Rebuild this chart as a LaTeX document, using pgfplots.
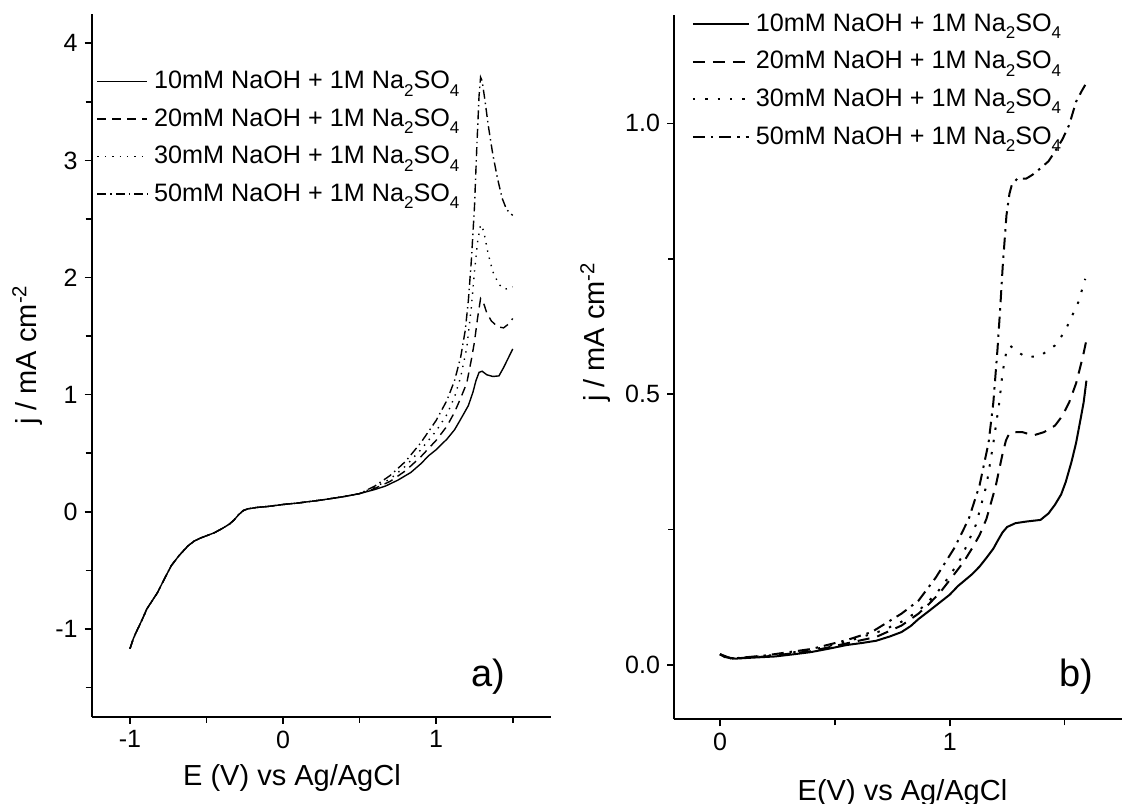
\documentclass[border=0pt]{standalone}
\usepackage{fontspec}
\setmainfont{Liberation Sans}
\usepackage{pgfplots}
\pgfplotsset{compat=1.18}
\newcommand\sub[1]{\raisebox{-0.55ex}{\fontsize{8.5}{9}\selectfont #1}}

\begin{document}
\begin{tikzpicture}
\path[use as bounding box] (0pt,0pt) rectangle (561pt,401.5pt);

\pgfplotsset{
  cvstyle/.style={
    scale only axis,
    axis lines=left,
    axis line style={-, line width=1pt},
    tick align=outside,
    tick style={line width=0.8pt, black},
    major tick length=3.5pt,
    minor tick length=3pt,
    tick label style={font=\fontsize{12.5}{14}\selectfont},
    label style={font=\fontsize{14.5}{16}\selectfont},
    /pgf/number format/assume math mode=true,
    legend cell align=left,
    legend style={draw=none, fill=none, inner xsep=0pt, inner ysep=0pt,
      font=\fontsize{12.6}{14}\selectfont, row sep=4.5pt, anchor=north west,
      /tikz/every odd column/.append style={column sep=1pt}},
  },
}

% ---------------- panel a ----------------
\begin{axis}[
  cvstyle,
  at={(45.85pt,43.15pt)}, anchor=south west,
  width=229.65pt, height=351.35pt,
  xmin=-1.25, xmax=1.75, ymin=-1.75, ymax=4.25,
  xtick={-1,0,1}, minor xtick={-0.5,0.5,1.5},
  ytick={-1,0,1,2,3,4}, minor ytick={-1.5,-0.5,0.5,1.5,2.5,3.5},
  xlabel={E (V) vs Ag/AgCl},
  ylabel={j / mA cm\textsuperscript{-2}},
  xlabel style={at={(axis description cs:0.436,-0.087)}, anchor=center},
  ylabel style={at={(axis description cs:-0.14,0.515)}, anchor=center},
  legend style={at={(axis description cs:0.01,0.925)}},
  legend image code/.code={\draw[#1] (0pt,0pt) -- (25pt,0pt);},
  every axis plot/.append style={line width=0.7pt, black},
]
\addplot[solid] coordinates {(-1.0,-1.17) (-0.98,-1.09) (-0.96,-1.03) (-0.92,-0.92) (-0.89,-0.83) (-0.85,-0.75) (-0.82,-0.69) (-0.77,-0.56) (-0.73,-0.46) (-0.68,-0.375) (-0.62,-0.29) (-0.58,-0.25) (-0.54,-0.225) (-0.45,-0.18) (-0.4,-0.145) (-0.35,-0.105) (-0.32,-0.07) (-0.29,-0.025) (-0.26,0.01) (-0.23,0.025) (-0.17,0.037) (-0.1,0.045) (0,0.062) (0.1,0.075) (0.25,0.1) (0.4,0.13) (0.5,0.155)
 (0.6,0.19) (0.67,0.22) (0.75,0.27) (0.835,0.336) (0.9,0.41) (0.952,0.48) (1.0,0.53) (1.07,0.62) (1.12,0.70) (1.16,0.79) (1.21,0.906) (1.24,1.02) (1.26,1.12) (1.28,1.19) (1.30,1.2) (1.33,1.17) (1.37,1.155) (1.41,1.16) (1.44,1.23) (1.47,1.31) (1.5,1.39)};
\addlegendentry{10mM NaOH + 1M Na\sub{2}SO\sub{4}}
\addplot[dash pattern=on 4.5pt off 3pt] coordinates {(-1.0,-1.17) (-0.98,-1.09) (-0.96,-1.03) (-0.92,-0.92) (-0.89,-0.83) (-0.85,-0.75) (-0.82,-0.69) (-0.77,-0.56) (-0.73,-0.46) (-0.68,-0.375) (-0.62,-0.29) (-0.58,-0.25) (-0.54,-0.225) (-0.45,-0.18) (-0.4,-0.145) (-0.35,-0.105) (-0.32,-0.07) (-0.29,-0.025) (-0.26,0.01) (-0.23,0.025) (-0.17,0.037) (-0.1,0.045) (0,0.062) (0.1,0.075) (0.25,0.1) (0.4,0.13) (0.5,0.155)
 (0.6,0.2) (0.7,0.26) (0.8,0.35) (0.9,0.47) (1.0,0.61) (1.07,0.73) (1.12,0.85) (1.16,0.97) (1.2,1.1) (1.23,1.3) (1.25,1.45) (1.27,1.65) (1.29,1.82) (1.31,1.78) (1.33,1.7) (1.36,1.63) (1.4,1.58) (1.44,1.57) (1.47,1.6) (1.5,1.65)};
\addlegendentry{20mM NaOH + 1M Na\sub{2}SO\sub{4}}
\addplot[dash pattern=on 0.7pt off 3pt] coordinates {(-1.0,-1.17) (-0.98,-1.09) (-0.96,-1.03) (-0.92,-0.92) (-0.89,-0.83) (-0.85,-0.75) (-0.82,-0.69) (-0.77,-0.56) (-0.73,-0.46) (-0.68,-0.375) (-0.62,-0.29) (-0.58,-0.25) (-0.54,-0.225) (-0.45,-0.18) (-0.4,-0.145) (-0.35,-0.105) (-0.32,-0.07) (-0.29,-0.025) (-0.26,0.01) (-0.23,0.025) (-0.17,0.037) (-0.1,0.045) (0,0.062) (0.1,0.075) (0.25,0.1) (0.4,0.13) (0.5,0.155)
 (0.6,0.21) (0.7,0.28) (0.8,0.39) (0.9,0.53) (1.0,0.69) (1.07,0.83) (1.12,0.98) (1.16,1.15) (1.2,1.4) (1.23,1.75) (1.25,2.05) (1.27,2.3) (1.29,2.45) (1.31,2.4) (1.34,2.2) (1.37,2.05) (1.41,1.94) (1.45,1.9) (1.5,1.92)};
\addlegendentry{30mM NaOH + 1M Na\sub{2}SO\sub{4}}
\addplot[dash pattern=on 4.5pt off 2pt on 0.7pt off 2pt] coordinates {(-1.0,-1.17) (-0.98,-1.09) (-0.96,-1.03) (-0.92,-0.92) (-0.89,-0.83) (-0.85,-0.75) (-0.82,-0.69) (-0.77,-0.56) (-0.73,-0.46) (-0.68,-0.375) (-0.62,-0.29) (-0.58,-0.25) (-0.54,-0.225) (-0.45,-0.18) (-0.4,-0.145) (-0.35,-0.105) (-0.32,-0.07) (-0.29,-0.025) (-0.26,0.01) (-0.23,0.025) (-0.17,0.037) (-0.1,0.045) (0,0.062) (0.1,0.075) (0.25,0.1) (0.4,0.13) (0.5,0.155)
 (0.6,0.22) (0.7,0.31) (0.8,0.43) (0.9,0.59) (1.0,0.78) (1.07,0.95) (1.12,1.12) (1.16,1.32) (1.19,1.55) (1.21,1.8) (1.23,2.15) (1.25,2.6) (1.265,3.1) (1.28,3.55) (1.29,3.71) (1.30,3.68) (1.32,3.5) (1.34,3.3) (1.37,3.05) (1.40,2.85) (1.43,2.68) (1.46,2.58) (1.5,2.53)};
\addlegendentry{50mM NaOH + 1M Na\sub{2}SO\sub{4}}
\node[font=\fontsize{19}{22}\selectfont] at (axis cs:1.34,-1.41) {a)};
\end{axis}

% ---------------- panel b ----------------
\begin{axis}[
  cvstyle,
  at={(337pt,41.85pt)}, anchor=south west,
  width=224pt, height=352.15pt,
  xmin=-0.2, xmax=1.75, ymin=-0.1, ymax=1.2,
  xtick={0,1}, minor xtick={0.5,1.5},
  ytick={0,0.5,1}, minor ytick={0.25,0.75},
  yticklabel style={/pgf/number format/fixed, /pgf/number format/fixed zerofill, /pgf/number format/precision=1},
  xlabel={E(V) vs Ag/AgCl},
  ylabel={j / mA cm\textsuperscript{-2}},
  xlabel style={at={(axis description cs:0.51,-0.105)}, anchor=center},
  ylabel style={at={(axis description cs:-0.175,0.55)}, anchor=center},
  legend style={at={(axis description cs:0.039,1.008)}},
  legend image code/.code={\draw[#1] (0pt,0pt) -- (28pt,0pt);},
  every axis plot/.append style={line width=1pt, black},
]
\addplot[solid] coordinates {(0,0.02) (0.02,0.015) (0.067,0.012) (0.15,0.014) (0.24,0.016) (0.32,0.02) (0.395,0.024) (0.47,0.03) (0.55,0.037) (0.62,0.041) (0.68,0.045) (0.74,0.053) (0.79,0.061) (0.83,0.072) (0.864,0.085) (0.91,0.1) (0.958,0.116) (1.0,0.13) (1.036,0.146) (1.098,0.168) (1.13,0.182) (1.16,0.198) (1.19,0.215) (1.208,0.229) (1.23,0.245) (1.25,0.255) (1.286,0.262) (1.333,0.265) (1.395,0.268) (1.43,0.28) (1.458,0.296) (1.485,0.315) (1.505,0.338) (1.53,0.375) (1.55,0.41) (1.57,0.455) (1.583,0.485) (1.595,0.525)};
\addlegendentry{10mM NaOH + 1M Na\sub{2}SO\sub{4}}
\addplot[dash pattern=on 6pt off 4pt] coordinates {(0,0.02) (0.05,0.012) (0.2,0.016) (0.4,0.026) (0.55,0.04) (0.68,0.052) (0.79,0.073) (0.864,0.095) (0.91,0.113) (0.958,0.134) (1.02,0.168) (1.06,0.19) (1.098,0.216) (1.13,0.24) (1.16,0.27) (1.18,0.3) (1.2,0.33) (1.215,0.36) (1.23,0.39) (1.245,0.415) (1.26,0.428) (1.29,0.43) (1.317,0.43) (1.364,0.424) (1.41,0.43) (1.458,0.442) (1.49,0.46) (1.52,0.485) (1.55,0.52) (1.58,0.57) (1.6,0.61)};
\addlegendentry{20mM NaOH + 1M Na\sub{2}SO\sub{4}}
\addplot[dash pattern=on 1.2pt off 5pt] coordinates {(0,0.02) (0.05,0.012) (0.2,0.017) (0.4,0.028) (0.55,0.043) (0.708,0.064) (0.79,0.08) (0.864,0.1) (0.94,0.131) (1.0,0.165) (1.05,0.198) (1.114,0.259) (1.16,0.332) (1.19,0.41) (1.216,0.485) (1.23,0.54) (1.245,0.575) (1.262,0.59) (1.29,0.58) (1.333,0.568) (1.395,0.571) (1.458,0.59) (1.5,0.615) (1.52,0.633) (1.56,0.67) (1.59,0.713)};
\addlegendentry{30mM NaOH + 1M Na\sub{2}SO\sub{4}}
\addplot[dash pattern=on 6pt off 3pt on 1.2pt off 3pt] coordinates {(0,0.02) (0.05,0.012) (0.2,0.018) (0.4,0.03) (0.55,0.046) (0.66,0.061) (0.79,0.095) (0.864,0.119) (0.94,0.162) (1.02,0.216) (1.083,0.27) (1.13,0.332) (1.169,0.41) (1.19,0.485) (1.208,0.583) (1.22,0.66) (1.231,0.738) (1.247,0.83) (1.26,0.87) (1.27,0.886) (1.294,0.898) (1.333,0.898) (1.36,0.905) (1.395,0.917) (1.43,0.93) (1.458,0.948) (1.49,0.97) (1.52,0.997) (1.55,1.04) (1.575,1.06) (1.59,1.071)};
\addlegendentry{50mM NaOH + 1M Na\sub{2}SO\sub{4}}
\node[font=\fontsize{19}{22}\selectfont] at (axis cs:1.55,-0.022) {b)};
\end{axis}
\end{tikzpicture}
\end{document}
